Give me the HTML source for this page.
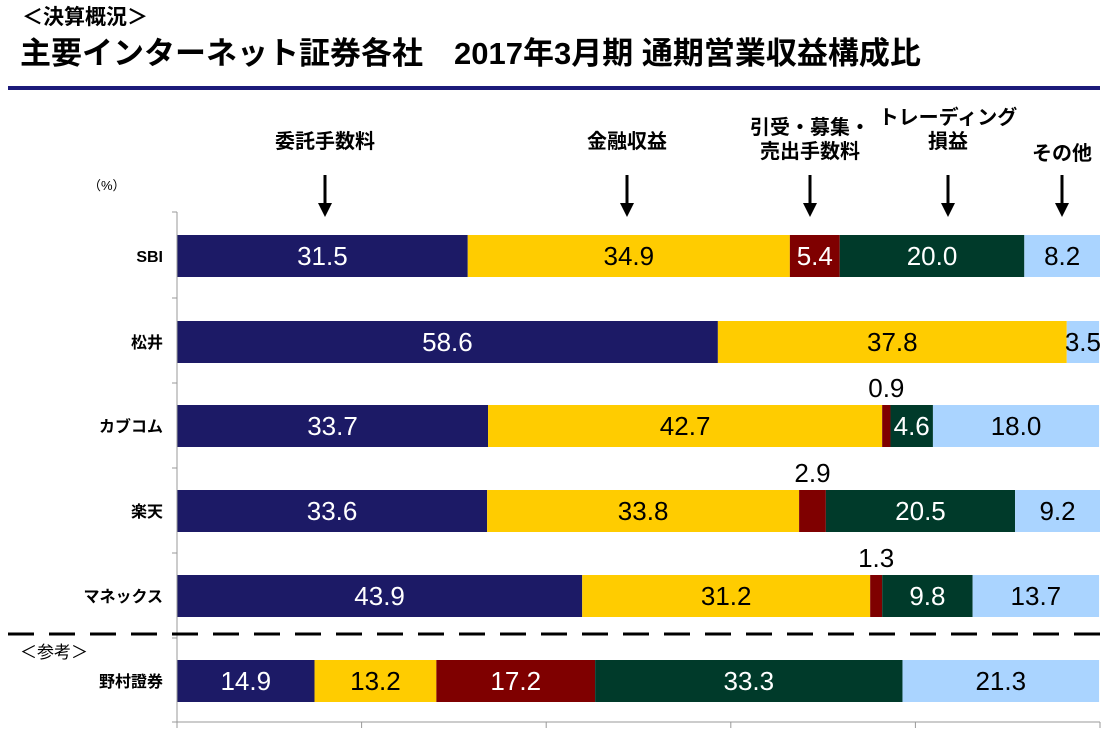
<!DOCTYPE html>
<html><head><meta charset="utf-8"><style>
body{margin:0;background:#fff;width:1105px;height:730px;overflow:hidden}
svg text{font-family:"Liberation Sans","Noto Sans CJK JP",sans-serif}
</style></head><body>
<svg id="c" width="1105" height="730" viewBox="0 0 1105 730">
<text x="22" y="24" font-size="21" font-weight="bold">＜決算概況＞</text>
<text x="20" y="64" font-size="31" font-weight="bold">主要インターネット証券各社　2017年3月期 通期営業収益構成比</text>
<rect x="8" y="86" width="1092" height="4" fill="#1c1a7a"/>
<text x="88" y="190" font-size="13">（%）</text>
<g id="legend"></g>
<g id="bars"></g>
<line x1="177" y1="212" x2="177" y2="722" stroke="#999"/>
<line x1="177" y1="722" x2="1100" y2="722" stroke="#999"/>
<line x1="8" y1="634" x2="1100" y2="634" stroke="#000" stroke-width="3" stroke-dasharray="26,15"/>
<text x="20" y="658" font-size="17">＜参考＞</text>
</svg>
<script>
const companies=["SBI","松井","カブコム","楽天","マネックス","野村證券"];
const commission=[31.5,58.6,33.7,33.6,43.9,14.9];
const financial=[34.9,37.8,42.7,33.8,31.2,13.2];
const underwriting=[5.4,0,0.9,2.9,1.3,17.2];
const trading=[20.0,0,4.6,20.5,9.8,33.3];
const other=[8.2,3.5,18.0,9.2,13.7,21.3];
const seriesNames=["委託手数料","金融収益","引受・募集・\n売出手数料","トレーディング\n損益","その他"];
const series=[commission,financial,underwriting,trading,other];
const colors=["#1c1a66","#ffcc00","#7f0000","#003a2a","#aad4ff"];
const txtColors=["#fff","#000","#fff","#fff","#000"];
const rowY=[256,342,426,511,596,681];
const NS="http://www.w3.org/2000/svg";
const x0=177,x1=1100;
const xs=v=>x0+(x1-x0)*v/100;
const svg=document.getElementById('c');
const bars=document.getElementById('bars');
function mk(t,a,p){const e=document.createElementNS(NS,t);for(const k in a)e.setAttribute(k,a[k]);p.appendChild(e);return e;}
[212,298,383,468,553,638,722].forEach(y=>{const l=mk('line',{x1:172,y1:y,x2:177,y2:y,stroke:'#999'},svg);

});
[0,20,40,60,80,100].forEach(v=>{const l=mk('line',{x1:xs(v),y1:722,x2:xs(v),y2:728,stroke:'#999'},svg);

});
companies.forEach((c,i)=>{
  const y=rowY[i];
  const t=mk('text',{x:163,y:y+6,'font-size':16,'font-weight':'bold','text-anchor':'end'},svg);t.textContent=c;
  
  
  let cum=0;
  series.forEach((s,j)=>{
    const v=s[i];if(!v)return;
    const xa=xs(cum),xb=xs(cum+v);cum+=v;
    const r=mk('rect',{x:xa,y:y-21,width:xb-xa,height:42,fill:colors[j]},bars);
    
    
    const small=v<3;
    const lb=mk('text',{x:(xa+xb)/2,y:small?y-29:y+9,'font-size':26,'text-anchor':'middle',fill:small?'#000':txtColors[j]},bars);
    lb.textContent=v.toFixed(1);
    
    
  });
});
const legX=[325,627,810,948,1062];
const legG=document.getElementById('legend');
seriesNames.forEach((n,j)=>{
  const lines=n.split('\n');
  lines.forEach((ln,k)=>{
    const t=mk('text',{x:legX[j],y:(lines.length>1?134+k*24:148)+(j==4?12:0)+(j==3?-10:0),'font-size':20,'font-weight':'bold','text-anchor':'middle'},legG);
    t.textContent=ln;
    
    
  });
  const a=mk('line',{x1:legX[j],y1:175,x2:legX[j],y2:205,stroke:'#000','stroke-width':3},legG);
  
  
  const h=mk('polygon',{points:`${legX[j]-7},203 ${legX[j]+7},203 ${legX[j]},217`,fill:'#000'},legG);
  
  
});
</script>
</body></html>
